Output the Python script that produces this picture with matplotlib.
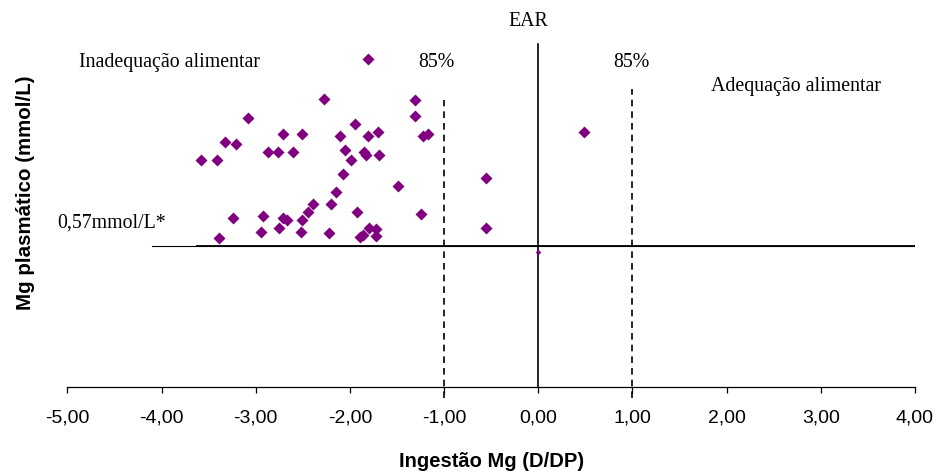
import numpy as np
import matplotlib
matplotlib.use("Agg")
import matplotlib.pyplot as plt

# ingestao (D/DP) e Mg plasmatico
ingestao = [-1.805, -2.275, -1.309, -1.309, -3.085, -1.949, -3.323, -3.209, -2.707, -2.508,
            -2.105, -1.805, -1.705, -1.227, -1.168, -3.584, -3.408, -2.866, -2.766, -2.607,
            -2.049, -1.847, -1.829, -1.688, -1.985, -2.070, -1.489, -2.151, -2.204, -2.389,
            -2.445, -1.928, -1.245, -3.244, -2.919, -2.707, -2.665, -2.508, -3.386, -2.947,
            -2.749, -2.522, -2.225, -1.890, -1.864, -1.794, -1.723, -1.723, 0.488, -0.555,
            -0.555]
mg_plasma = [1.326, 1.166, 1.160, 1.096, 1.086, 1.063, 0.992, 0.982, 1.022, 1.022,
             1.014, 1.014, 1.030, 1.014, 1.022, 0.918, 0.918, 0.949, 0.949, 0.949,
             0.958, 0.949, 0.939, 0.939, 0.918, 0.860, 0.814, 0.787, 0.740, 0.740,
             0.708, 0.708, 0.701, 0.683, 0.693, 0.684, 0.674, 0.674, 0.602, 0.628,
             0.643, 0.628, 0.621, 0.605, 0.615, 0.644, 0.639, 0.610, 1.030, 0.844,
             0.643]
ponto_ear = (0.0, 0.547)  # ponto pequeno sobre a linha EAR
corte_mg = 0.57
xticks = np.arange(-5, 5, 1)
xticklabels = ['%.2f' % v for v in xticks]
xticklabels = [s.replace('.', ',') for s in xticklabels]

fig = plt.figure(figsize=(9.39, 4.72), dpi=100)
ax = fig.add_axes([0.0717, 0.1801, 0.9027, 0.7337])

serif = ['Liberation Serif', 'DejaVu Serif']
sans = ['Liberation Sans', 'DejaVu Sans']

# linhas de referencia
ax.plot([-4.104, 4.0], [corte_mg, corte_mg], color='black', lw=0.8)
ax.plot([-3.623, 4.0], [corte_mg, corte_mg], color='black', lw=1.3)
ax.plot([0, 0], [0, 1.385], color='black', lw=1.2)
ax.plot([-1, -1], [-0.045, 1.160], color='black', lw=1.2, ls=(0, (4, 3)), clip_on=False)
ax.plot([1, 1], [-0.045, 1.204], color='black', lw=1.2, ls=(0, (4, 3)), clip_on=False)

ax.plot(ingestao, mg_plasma, ls='none', marker='D', ms=6.2, color='#800080', mec='none')
ax.plot([ponto_ear[0]], [ponto_ear[1]], ls='none', marker='D', ms=2.8, color='#800080', mec='none')

ax.set_xlim(-5, 4)
ax.set_ylim(0, 1.4)
ax.set_yticks([])
for s in ['left', 'top', 'right']:
    ax.spines[s].set_visible(False)
ax.spines['bottom'].set_linewidth(0.9)
ax.set_xticks(xticks)
ax.set_xticklabels(xticklabels, fontfamily=sans, fontsize=14)
ax.tick_params(axis='x', direction='out', length=4.3, width=0.9, pad=12)

ax.set_xlabel('Ingestão Mg (D/DP)', fontfamily=sans, fontsize=14.5, fontweight='bold')
ax.xaxis.label.set_va('center')
ax.xaxis.set_label_coords(0.5, -0.216)
ax.set_ylabel('Mg plasmático (mmol/L)', fontfamily=sans, fontsize=14.8, fontweight='bold')
ax.yaxis.label.set_va('center')
ax.yaxis.set_label_coords(-0.0499, 0.562)

kw = dict(fontfamily=serif, fontsize=14.3, va='center', clip_on=False)
ax.text(-0.109, 1.477, 'EAR', ha='center', **kw)
ax.text(-1.086, 1.310, '85%', ha='center', **kw)
ax.text(0.984, 1.310, '85%', ha='center', **kw)
ax.text(-4.876, 1.310, 'Inadequação alimentar', ha='left', **kw)
ax.text(1.830, 1.213, 'Adequação alimentar', ha='left', **kw)
ax.text(-5.109, 0.663, '0,57mmol/L*', ha='left', **kw)

fig.savefig('out.png', dpi=100)
